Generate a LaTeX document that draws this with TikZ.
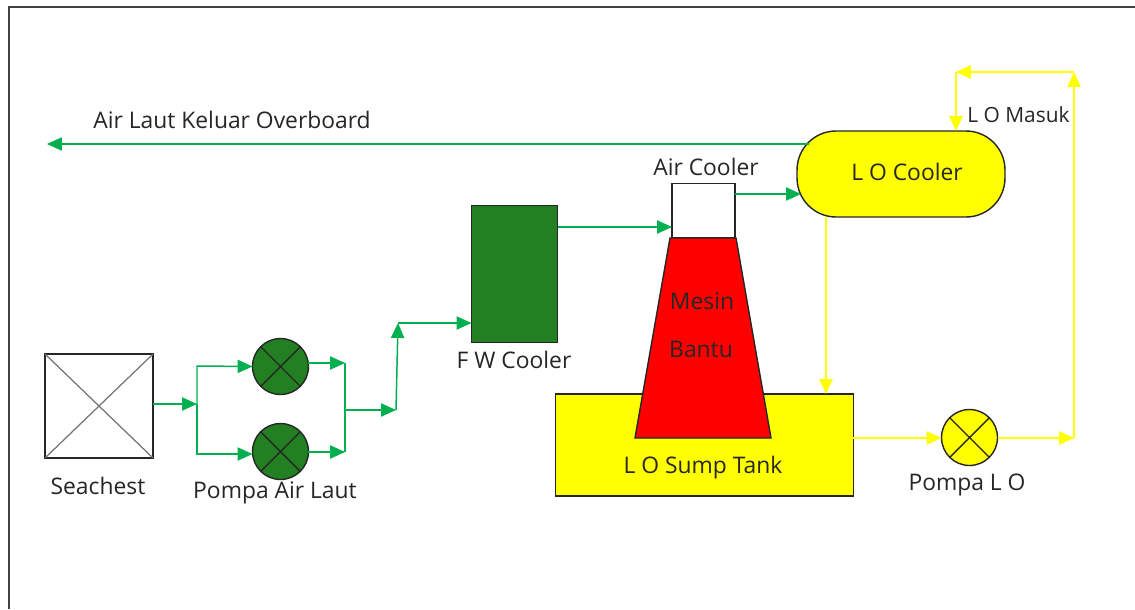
\documentclass[tikz,border=0pt]{standalone}
\usepackage{fontspec}
\setmainfont{Open Sans}
\usetikzlibrary{arrows.meta}
\definecolor{gline}{HTML}{00B050}
\definecolor{yline}{HTML}{FFFF00}
\definecolor{dgreen}{HTML}{228022}
\definecolor{tcol}{HTML}{262626}
\tikzset{
 x=0.02cm,y=-0.02cm,
 lbl/.style={inner sep=0pt,text=tcol,font=\fontsize{13pt}{15pt}\selectfont},
 lblsmall/.style={inner sep=0pt,text=tcol,font=\fontsize{11.9pt}{14pt}\selectfont},
 box/.style={draw=black!85,line width=0.8pt,inner sep=0pt,outer sep=0pt},
 pumpg/.style={circle,box,fill=dgreen,minimum size=1.12cm},
 pumpy/.style={circle,box,fill=yline,minimum size=1.12cm},
 gflow/.style={draw=gline,line width=0.85pt},
 yflow/.style={draw=yline,line width=1pt},
 tip/.style={-{Triangle[length=8.5pt,width=7.5pt]}},
 xmark/.style={draw=black!85,line width=0.8pt},
}
\begin{document}
\begin{tikzpicture}
\useasboundingbox (0,0) rectangle (1135,609);
\fill[white] (0,0) rectangle (1135,609);
\coordinate (fbl) at (9,609); \coordinate (ftl) at (9,7); \coordinate (ftr) at (1135,7);
\draw[draw=black!75,line width=1pt] (fbl) -- (ftl) -- (ftr);

% equipment
\node[box,minimum width=2.16cm,minimum height=2.08cm] (sea) at (99,406) {};
\draw[draw=black!55,line width=0.7pt] (sea.north west) -- (sea.south east) (sea.north east) -- (sea.south west);
\node[pumpg] (p1) at (280.5,366.5) {};
\node[pumpg] (p2) at (280.5,451.5) {};
\node[pumpy] (p3) at (969.5,437.5) {};
\foreach \p in {p1,p2,p3}{
 \draw[xmark] (\p.45) -- (\p.225) (\p.135) -- (\p.315);
}
\node[box,fill=dgreen,minimum width=1.72cm,minimum height=2.74cm] (fw) at (514.5,274) {};
\node[box,fill=yline,minimum width=5.96cm,minimum height=2.04cm] (sump) at (704.5,445) {};
\node[box,fill=white,minimum width=1.26cm,minimum height=1.08cm] (air) at (703.5,210.5) {};
\draw[box,fill=red] (670,238) coordinate (mtl) -- (736,238) coordinate (mtr) -- (771,438) coordinate (mbr) -- (635,438) coordinate (mbl) -- cycle;
\node[box,fill=yline,minimum width=4.16cm,minimum height=1.72cm,rounded corners=0.78cm] (cool) at (901,174) {};

% junctions
\coordinate (j1) at (197,404);
\coordinate (j2) at (197,366);
\coordinate (j3) at (197,454);
\coordinate (j4) at (345,363);
\coordinate (j5) at (345,452);
\coordinate (j6) at (345,410);
\coordinate (j7) at (396,410);
\coordinate (j8) at (398,323);
\coordinate (y1) at (1074,438);
\coordinate (y2) at (1074,72);
\coordinate (y3) at (956,72);
\coordinate (over) at (47,144);

% sea water
\draw[gflow,tip] (cool.west |- over) ++(12,0) coordinate (c0) -- (over);
\draw[gflow,tip] (sea.east |- j1) -- (j1);
\draw[gflow,tip] (j1) -- (j2) -- (p1.west);
\draw[gflow,tip] (j1) -- (j3) -- (p2.west |- j3);
\draw[gflow,tip] (p1.east |- j4) -- (j4);
\draw[gflow,tip] (p2.east |- j5) -- (j5);
\draw[gflow] (j4) -- (j5);
\draw[gflow,tip] (j6) -- (j7);
\draw[gflow,tip] (j7) -- (j8);
\draw[gflow,tip] (j8) -- (fw.west |- j8);
\coordinate (fa) at (fw.east |- 0,227);
\draw[gflow,tip] (fa) -- (air.west |- fa);
\coordinate (ac) at (air.east |- 0,194);
\draw[gflow,tip] (ac) -- (801,194) coordinate (acend);

% lube oil
\coordinate (cb) at (826,217);
\draw[yflow,tip] (cb) -- (cb |- sump.north);
\coordinate (st) at (sump.east |- y1);
\draw[yflow,tip] (st) -- (p3.west |- y1);
\draw[yflow,tip] (p3.east |- y1) -- (y1);
\draw[yflow,tip] (y1) -- (y2);
\draw[yflow,tip] (y2) -- (y3);
\draw[yflow,tip] (y3) -- (y3 |- cool.north);

% labels
\node[lbl,anchor=west] (t1) at (93,120) {Air Laut Keluar Overboard};
\node[lbl] (t2) at (98,486) {Seachest};
\node[lbl] (t3) at (275,493) {Pompa Air Laut};
\node[lbl] (t4) at (514,360) {F W Cooler};
\node[lbl] (t5) at (706,167) {Air Cooler};
\node[lbl] (t6) at (907,172) {L O Cooler};
\node[lblsmall,anchor=west] (t7) at (967,115) {L O Masuk};
\node[lbl] (t8) at (702,301) {Mesin};
\node[lbl] (t9) at (701,349) {Bantu};
\node[lbl] (t10) at (703,468) {L O Sump Tank};
\node[lbl] (t11) at (967,485) {Pompa L O};
\end{tikzpicture}
\end{document}
